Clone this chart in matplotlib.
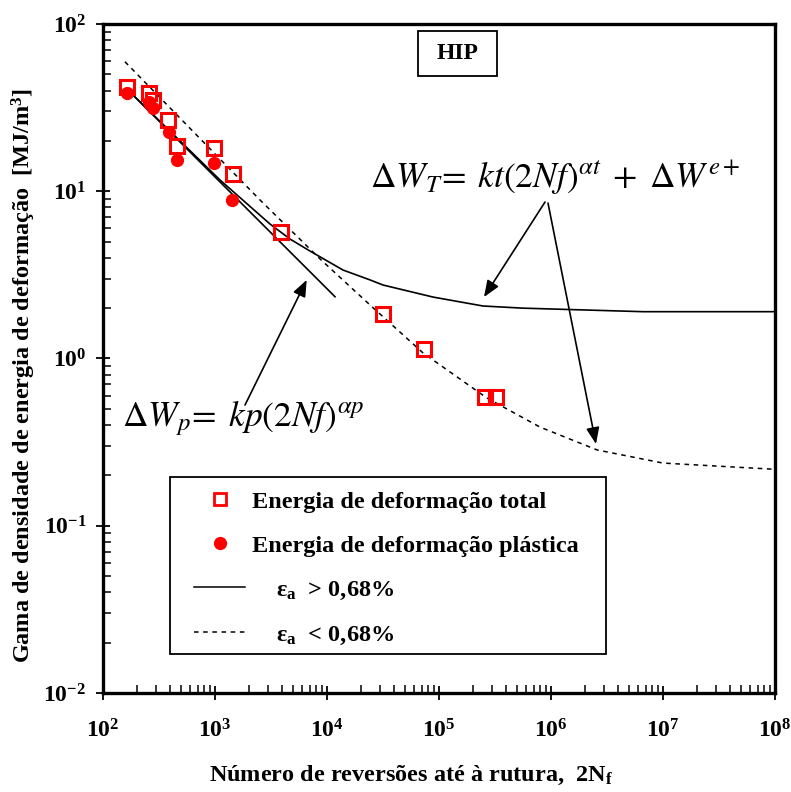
import numpy as np
import matplotlib
matplotlib.use("Agg")
import matplotlib.pyplot as plt
from matplotlib.ticker import LogLocator, FuncFormatter, NullFormatter
from matplotlib.lines import Line2D
from matplotlib.patches import Rectangle

# experimental points (2Nf, MJ/m3)
N_total = [163, 259, 281, 383, 460, 986, 1439, 3880, 31600, 73500, 257700, 323000]
W_total = [42.2, 38.5, 35.1, 26.7, 18.7, 18.2, 12.6, 5.71, 1.85, 1.14, 0.589, 0.589]
N_plastic = [163, 259, 278, 388, 455, 980, 1426]
W_plastic = [38.5, 34.3, 31.3, 22.7, 15.4, 14.7, 8.87]

# fitted curves
N_fit_p = [167, 11790]
W_fit_p = [40.3, 2.34]
N_fit_t = [167, 1108, 3098, 4673, 7050, 13900, 24210, 31620, 88400, 247100, 562300, 6.63e6, 1e8]
W_fit_t = [40.3, 11.68, 6.37, 5.18, 4.39, 3.38, 2.95, 2.75, 2.33, 2.06, 2.00, 1.905, 1.905]
N_fit_d = [157, 2522, 8660, 24200, 71970, 268300, 797800, 2575000, 1e7, 1e8]
W_fit_d = [59.5, 8.87, 3.94, 2.09, 1.08, 0.580, 0.389, 0.284, 0.237, 0.2175]

plt.rcParams['font.family'] = 'Liberation Serif'
plt.rcParams['mathtext.fontset'] = 'custom'
plt.rcParams['mathtext.rm'] = 'Liberation Serif'
plt.rcParams['mathtext.bf'] = 'Liberation Serif:bold'
plt.rcParams['mathtext.it'] = 'Liberation Serif:italic'

fig = plt.figure(figsize=(7.91, 7.92), dpi=100)
ax = fig.add_axes([0.1302, 0.125, 0.8496, 0.8447])

ax.plot(N_fit_p, W_fit_p, color='black', lw=1.2)
ax.plot(N_fit_t, W_fit_t, color='black', lw=1.2)
ax.plot(N_fit_d, W_fit_d, color='black', lw=1.1, dashes=(3, 3))
ax.plot(N_plastic, W_plastic, 'o', color='red', ms=8.5, mec='red')
ax.plot(N_total, W_total, 's', mfc='none', mec='red', mew=2.2, ms=10)

ax.set_xscale('log')
ax.set_yscale('log')
ax.set_xlim(1e2, 1e8)
ax.set_ylim(1e-2, 1e2)

fmt = FuncFormatter(lambda v, p: r'$\mathbf{10^{%d}}$' % int(round(np.log10(v))))
for axis in (ax.xaxis, ax.yaxis):
    axis.set_major_locator(LogLocator(base=10, numticks=10))
    axis.set_minor_locator(LogLocator(base=10, subs=np.arange(2, 10), numticks=10))
    axis.set_major_formatter(fmt)
    axis.set_minor_formatter(NullFormatter())
ax.tick_params(which='major', direction='inout', length=10, width=1.3, labelsize=17)
ax.tick_params(which='minor', direction='in', length=6, width=1.1)
ax.tick_params(axis='x', which='major', pad=14)
ax.tick_params(axis='y', which='major', pad=7)
for s in ax.spines.values():
    s.set_linewidth(2.4)

ax.set_xlabel(r'Número de reversões até à rutura,  2N$_\mathbf{f}$', fontsize=17.5, fontweight='bold')
ax.xaxis.set_label_coords(0.458, -0.106)
ax.set_ylabel(r'Gama de densidade de energia de deformação  [MJ/m$^\mathbf{3}$]', fontsize=17.5,
              fontweight='bold')
ax.yaxis.set_label_coords(-0.097, 0.475)

# HIP box
ax.add_patch(Rectangle((0.469, 0.9227), 0.117, 0.0668, transform=ax.transAxes,
                       fill=False, lw=1.3, ec='black'))
ax.text(0.5275, 0.956, 'HIP', transform=ax.transAxes, ha='center', va='center',
        fontsize=17, fontweight='bold')

# equations
ax.text(0.397, 0.755, r'$\Delta W_T\!=\;kt(2Nf)^{\alpha t}\;+\;\Delta W^{e+}$', transform=ax.transAxes,
        fontsize=25.5, math_fontfamily='stix', va='baseline')
ax.text(0.028, 0.399, r'$\Delta W_p\!=\;kp(2Nf)^{\alpha p}$', transform=ax.transAxes,
        fontsize=25.5, math_fontfamily='stix', va='baseline')

arw = dict(arrowstyle='-|>,head_length=1.0,head_width=0.4', color='black', lw=1.2, shrinkA=0, shrinkB=0)
ax.annotate('', xy=(252200, 2.33), xytext=(883700, 8.62), arrowprops=arw)
ax.annotate('', xy=(2522000, 0.308), xytext=(940000, 8.50), arrowprops=arw)
ax.annotate('', xy=(6587, 2.95), xytext=(1853, 0.527), arrowprops=arw)

# legend
ax.add_patch(Rectangle((0.0997, 0.0583), 0.6488, 0.2646, transform=ax.transAxes,
                       fill=False, lw=1.3, ec='black'))
handles = [
    Line2D([], [], ls='none', marker='s', mfc='none', mec='red', mew=2.0, ms=8.5),
    Line2D([], [], ls='none', marker='o', color='red', ms=8.5),
    Line2D([], [], color='black', lw=1.1),
    Line2D([], [], color='black', lw=1.1, dashes=(3, 3)),
]
labels = ['Energia de deformação total',
          'Energia de deformação plástica',
          r'    ε$_\mathbf{a}$  > 0,68%',
          r'    ε$_\mathbf{a}$  < 0,68%']
ax.legend(handles, labels, loc='upper left', bbox_to_anchor=(0.1354, 0.302), frameon=False,
          prop={'size': 17.5, 'weight': 'bold'}, handlelength=2.1, handletextpad=0.3,
          labelspacing=0.9, borderpad=0, borderaxespad=0)

fig.savefig('out.png', dpi=100)
